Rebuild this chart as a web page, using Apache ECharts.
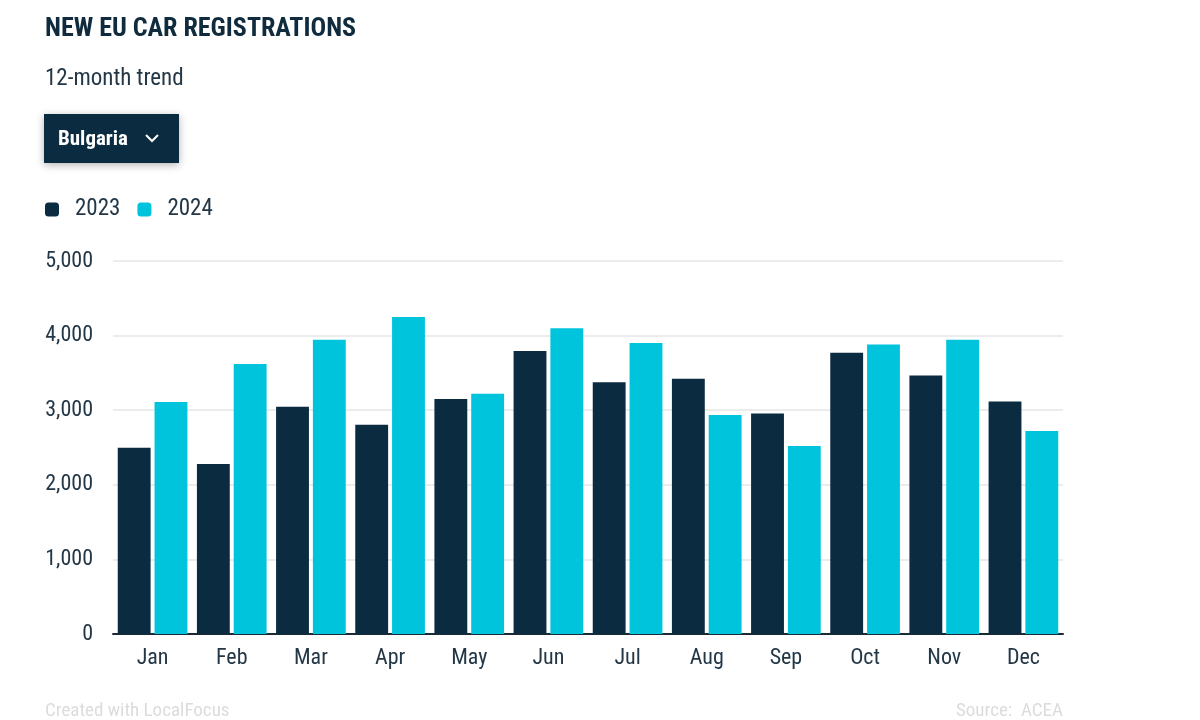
<!DOCTYPE html>
<html><head><meta charset="utf-8">
<script src="https://cdn.jsdelivr.net/npm/echarts@6/dist/echarts.min.js"></script>
<style>html,body{margin:0;padding:0;background:#fff}#c{width:1200px;height:720px}</style>
</head><body><div id="c"></div>
<script>
const months = ['Jan','Feb','Mar','Apr','May','Jun','Jul','Aug','Sep','Oct','Nov','Dec'];
const s2023 = [2495, 2280, 3045, 2805, 3150, 3795, 3375, 3420, 2955, 3770, 3465, 3115];
const s2024 = [3110, 3620, 3945, 4250, 3220, 4100, 3900, 2935, 2520, 3880, 3945, 2720];
const yTicks = [0, 1000, 2000, 3000, 4000, 5000];
const FONT = '"Roboto Condensed","Liberation Sans Narrow",Roboto,sans-serif';
const DARK = '#0b2b40', CYAN = '#00c3dc', TXT = '#233746';

const chart = echarts.init(document.getElementById('c'));
chart.setOption({
  animation: false,
  textStyle: {fontFamily: FONT},
  title: [
    {text: 'NEW EU CAR REGISTRATIONS', left: 45, top: 16, padding: 0, textStyle: {fontFamily: FONT, fontWeight: 'bold', fontSize: 26, color: '#0f2b3d'}},
    {text: '12-month trend', left: 45, top: 68, padding: 0, textStyle: {fontFamily: FONT, fontWeight: 'normal', fontSize: 23, color: TXT}},
    {text: 'Created with LocalFocus', left: 45, top: 702, padding: 0, textStyle: {fontFamily: FONT, fontWeight: 'normal', fontSize: 19, color: '#dcdcdc'}},
    {text: 'Source:  ACEA', right: 137, top: 702, padding: 0, textStyle: {fontFamily: FONT, fontWeight: 'normal', fontSize: 19, color: '#dcdcdc'}}
  ],
  legend: {
    left: 45, top: 198, padding: 0, icon: 'roundRect', itemWidth: 14, itemHeight: 14, itemGap: 17,
    textStyle: {fontFamily: FONT, fontSize: 23, color: TXT, padding: [0,0,0,11]},
    data: ['2023','2024']
  },
  graphic: [
    {type: 'rect', left: 44, top: 114, shape: {width: 135, height: 49}, style: {fill: DARK, shadowBlur: 8, shadowColor: 'rgba(0,0,0,0.3)', shadowOffsetY: 2}},
    {type: 'text', left: 58, top: 129, style: {text: 'Bulgaria', fill: '#fff', font: 'bold 21px ' + FONT}},
    {type: 'polyline', shape: {points: [[146,135],[152,141],[158,135]]}, style: {stroke: '#fff', lineWidth: 2, fill: null}}
  ],
  grid: {left: 113, right: 137, top: 261, bottom: 86},
  xAxis: {
    type: 'category', data: months,
    axisLine: {lineStyle: {color: '#1a2a36', width: 2}},
    axisTick: {show: false},
    axisLabel: {fontFamily: FONT, fontSize: 22, color: TXT, margin: 13}
  },
  yAxis: {
    type: 'value', min: 0, max: 5000, interval: 1000,
    axisLabel: {fontFamily: FONT, fontSize: 22, color: TXT, margin: 20,
      formatter: v => yTicks.includes(v) ? v.toLocaleString('en-US') : ''},
    splitLine: {lineStyle: {color: '#e6e6e6', width: 1.5}}
  },
  series: [
    {name: '2023', type: 'bar', data: s2023, itemStyle: {color: DARK}, barGap: '12%', barCategoryGap: '12%'},
    {name: '2024', type: 'bar', data: s2024, itemStyle: {color: CYAN}, barGap: '12%', barCategoryGap: '12%'}
  ]
});
</script></body></html>
